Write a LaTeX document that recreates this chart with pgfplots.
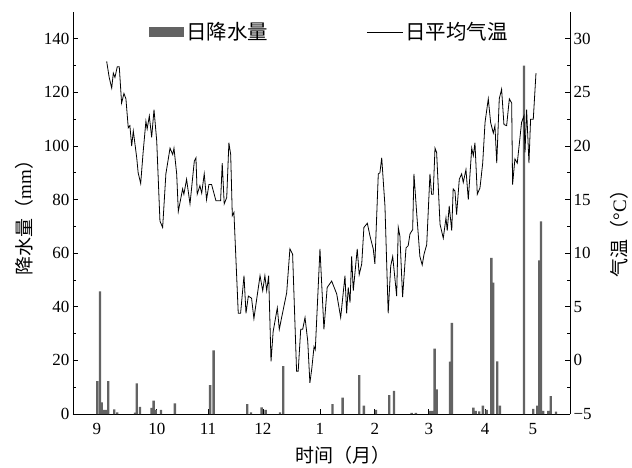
\documentclass[border=0pt]{standalone}
\usepackage{pgfplots}
\pgfplotsset{compat=1.18}
\usepackage{pgfplotstable}
\usepackage{fontspec}
\setmainfont{Liberation Serif}
\newfontfamily\cjk{Noto Sans CJK SC}
\definecolor{barcol}{HTML}{636363}

\pgfplotstableread{
day mm
0.2 12.3
1.7 45.8
2.6 4.3
3.5 1.5
4.4 1.5
5.4 1.5
6.3 12.3
9.6 1.7
11.3 0.6
21.1 0.5
22.1 11.4
23.9 2.7
30.4 2.3
31.5 5.0
32.6 1.5
35.6 1.5
43.3 4.0
62.9 10.8
64.8 23.7
83.5 3.7
85.6 0.6
91.5 2.5
93.7 1.5
101.7 0.6
103.5 17.9
130.9 3.7
136.5 6.1
145.7 14.5
148.3 3.1
155.0 1.5
162.4 7.0
165.0 8.6
174.8 0.4
177.2 0.4
185.0 1.2
186.5 1.2
187.6 24.4
188.7 9.2
196.1 19.5
197.2 34.0
209.1 2.4
210.4 1.2
212.4 1.0
214.4 3.1
216.5 1.5
219.1 58.3
220.2 49.0
222.4 19.6
223.9 3.1
237.2 130.0
242.4 1.9
244.6 3.1
245.7 57.3
246.7 71.9
247.9 1.2
250.7 1.2
252.1 6.7
255.0 0.9
}\rain

\pgfplotstableread{
day T
5.4 27.9
6.8 26.4
8.2 25.4
9.1 26.8
10.0 26.4
11.3 27.4
12.4 27.4
13.7 24.0
15.0 24.9
16.1 24.4
17.4 21.7
18.3 21.9
19.3 20.0
20.2 21.4
22.1 18.9
22.9 17.5
24.3 16.5
25.7 19.5
27.2 22.3
27.9 21.6
29.1 22.8
30.4 20.8
31.7 23.4
33.2 20.5
35.0 13.0
36.5 12.4
38.3 17.4
40.6 19.8
42.1 19.2
42.8 19.8
44.3 17.4
45.2 13.9
47.6 16.0
48.3 15.5
49.8 16.9
50.7 15.8
51.7 14.6
54.1 18.6
55.0 18.9
55.7 15.5
57.2 16.3
58.2 15.6
59.6 17.4
60.9 15.0
62.2 16.4
63.7 16.4
66.1 14.9
68.7 14.9
69.6 18.4
70.7 14.6
72.1 15.2
73.3 20.3
74.3 19.2
75.2 13.5
76.1 13.8
78.5 4.4
79.8 4.4
81.7 7.9
82.8 4.4
84.1 6.0
85.9 5.8
87.2 3.9
90.6 7.9
92.1 6.5
93.3 7.9
94.3 6.5
95.4 7.9
96.7 -0.1
97.9 2.7
100.2 4.9
101.3 2.9
102.6 4.0
105.4 6.3
107.2 10.4
108.7 9.9
110.9 -1.0
111.8 -1.0
113.2 2.9
114.3 2.9
115.6 4.0
117.1 1.8
118.3 -2.1
119.4 -0.7
120.6 1.3
121.3 1.0
123.9 10.4
126.1 2.9
127.9 6.8
130.4 7.4
133.2 6.2
135.4 4.0
137.8 7.9
138.7 4.4
139.6 6.8
140.6 5.4
141.5 9.7
142.4 6.5
144.6 10.4
145.7 8.0
147.1 9.0
148.3 12.4
150.2 12.8
151.7 11.6
153.5 10.4
154.4 9.0
156.3 17.4
157.2 17.5
158.2 18.9
160.0 14.4
161.8 4.4
163.2 8.8
164.3 9.7
166.5 6.0
167.4 12.4
168.3 11.6
169.8 5.9
171.7 10.5
172.9 10.7
173.9 11.8
175.4 12.2
176.1 17.4
177.6 13.8
179.4 9.7
180.7 8.9
181.7 9.9
183.2 10.8
185.0 17.4
185.9 15.5
186.8 15.5
187.8 19.8
188.7 19.4
190.6 12.7
192.4 11.4
193.9 13.3
194.6 12.1
195.7 14.4
197.1 12.1
197.9 16.0
198.9 15.8
199.8 13.6
201.3 16.9
202.6 17.4
203.5 16.6
205.0 17.8
206.3 15.0
208.2 19.8
209.1 19.1
210.0 20.3
211.3 15.5
212.8 16.1
214.3 18.4
215.6 22.2
217.4 24.4
218.7 22.2
220.2 21.2
221.1 21.9
222.1 18.4
223.5 24.4
224.8 25.3
226.1 22.0
227.6 21.9
229.1 24.4
230.4 24.0
230.9 16.4
232.2 18.8
233.5 18.4
235.9 22.2
237.2 22.8
237.8 19.4
238.7 23.4
240.0 18.4
240.9 22.5
242.4 22.5
243.9 26.8
}\temp

\begin{document}
\begin{tikzpicture}
\begin{axis}[name=ax1,
  scale only axis, width=497pt, height=402pt,
  xmin=-13.3, xmax=262.8, ymin=0, ymax=150,
  axis x line=bottom, axis y line=left, axis line style={-, line width=0.8pt},
  tick align=inside, major tick length=5pt, minor tick length=3pt,
  tick style={line width=0.8pt, black},
  xtick={0,33.3,61.7,92.2,123.9,154.4,184.4,215.6,242.2},
  xticklabels={9,10,11,12,1,2,3,4,5},
  xticklabel style={yshift=-6pt},
  ytick={0,20,...,140}, minor y tick num=1,
  ticklabel style={font=\fontsize{17}{17}\selectfont},
  /pgf/number format/assume math mode=true,
  xlabel={\cjk 时间（月）},
  ylabel={{\cjk 降水量（}mm{\cjk ）}},
  label style={font=\fontsize{19}{19}\selectfont},
  xlabel style={at={(axis description cs:0.543,-0.102)}, anchor=center},
  ylabel style={at={(axis description cs:-0.0986,0.5)}, anchor=center},
  legend style={at={(axis description cs:0.153,0.95)}, anchor=west, draw=none, fill=none, inner sep=0pt, font=\cjk\fontsize{20.5}{20.5}\selectfont},
]
\addplot[ybar, bar width=1.3, fill=barcol, draw=none,
  legend image code/.code={\fill[barcol] (0pt,-5pt) rectangle (35pt,5pt);}]
  table[x=day, y=mm] {\rain};
\addlegendentry{日降水量}
\end{axis}
\begin{axis}[at={(ax1.south west)}, anchor=south west,
  scale only axis, width=497pt, height=402pt,
  xmin=-13.3, xmax=262.8, ymin=-5, ymax=32.5,
  axis x line=none, axis y line=right, axis line style={-, line width=0.8pt},
  tick align=inside, major tick length=5pt, minor tick length=3pt,
  tick style={line width=0.8pt, black},
  ytick={-5,0,...,30}, yticklabels={−5,0,5,10,15,20,25,30}, minor y tick num=1,
  ticklabel style={font=\fontsize{17}{17}\selectfont},
  ylabel={{\cjk 气温（}°C{\cjk ）}},
  label style={font=\fontsize{19}{19}\selectfont},
  ylabel style={at={(axis description cs:1.0986,0.46)}, anchor=center},
  legend style={at={(axis description cs:0.590,0.95)}, anchor=west, draw=none, fill=none, inner sep=0pt, font=\cjk\fontsize{20.5}{20.5}\selectfont},
]
\addplot[black, line width=0.8pt, mark=none,
  legend image code/.code={\draw[black, line width=0.8pt] (0pt,0pt) -- (36pt,0pt);}]
  table[x=day, y=T] {\temp};
\addlegendentry{日平均气温}
\end{axis}
\path ([shift={(-73pt,-53pt)}]ax1.south west) rectangle ([shift={(62pt,12pt)}]ax1.north east);
\end{tikzpicture}
\end{document}
